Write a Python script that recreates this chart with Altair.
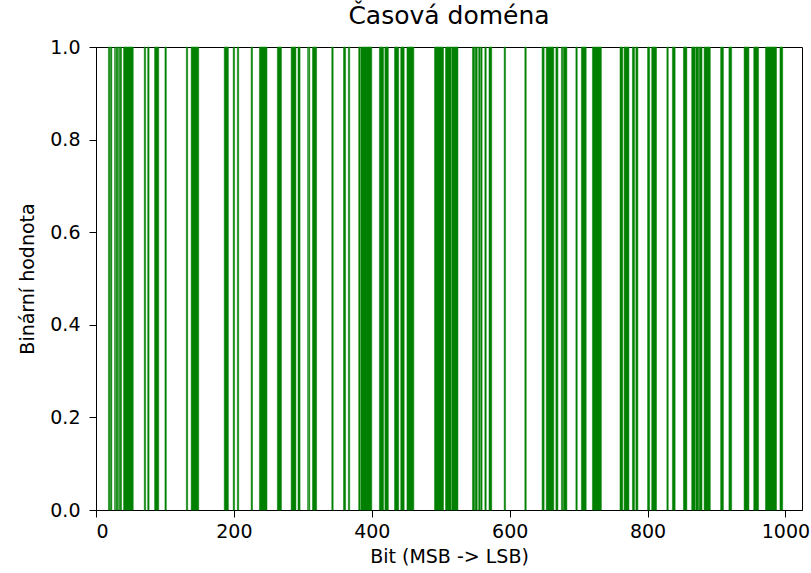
import altair as alt
import pandas as pd

# runs of bits equal to 1 (start index, end index inclusive)
run_start = [18, 21, 27, 29, 31, 33, 35, 40, 70, 75, 85, 100, 131, 138, 186, 199, 205, 225, 237,
             263, 283, 293, 307, 309, 314, 342, 359, 366, 381, 384, 411, 419, 433, 442, 451,
             491, 507, 516, 546, 550, 555, 558, 564, 570, 592, 622, 647, 653, 667, 675, 678,
             696, 704, 720, 760, 766, 778, 783, 800, 806, 828, 836, 852, 864, 870, 875, 882,
             906, 918, 940, 954, 971, 992]
run_end = [19, 22, 27, 29, 31, 33, 36, 53, 71, 76, 90, 101, 132, 148, 191, 200, 206, 226, 247,
           268, 289, 295, 307, 309, 319, 343, 361, 367, 382, 399, 416, 423, 438, 446, 460,
           503, 514, 524, 548, 552, 556, 559, 565, 573, 593, 623, 649, 663, 669, 676, 682,
           697, 710, 732, 763, 772, 780, 785, 802, 812, 829, 839, 856, 868, 873, 878, 890,
           909, 921, 946, 960, 986, 995]

df = pd.DataFrame({"start": run_start, "end": [e + 1 for e in run_end]})
df["lo"] = 0.0
df["hi"] = 1.0

x_ticks = [0, 200, 400, 600, 800, 1000]
y_ticks = [0.0, 0.2, 0.4, 0.6, 0.8, 1.0]

chart = alt.Chart(df).mark_rect(color="#008000", stroke="#008000", strokeWidth=0.5).encode(
    x=alt.X("start:Q", scale=alt.Scale(domain=[0, 1024], nice=False, zero=False),
            axis=alt.Axis(title="Bit (MSB -> LSB)", values=x_ticks, format="d", grid=False,
                          tickSize=7, labelPadding=5, titlePadding=6)),
    x2="end:Q",
    y=alt.Y("lo:Q", scale=alt.Scale(domain=[0, 1], nice=False),
            axis=alt.Axis(title="Binární hodnota", values=y_ticks, format=".1f", grid=False,
                          tickSize=7, labelPadding=9, titlePadding=12)),
    y2="hi:Q",
).properties(
    width=706, height=463,
    title=alt.TitleParams("Časová doména", fontSize=25, font="DejaVu Sans", fontWeight="normal",
                          color="black", offset=9),
    autosize=alt.AutoSizeParams(type="none"),
    padding={"left": 96, "top": 47, "right": 9, "bottom": 63},
).configure_axis(
    labelFont="DejaVu Sans", titleFont="DejaVu Sans", labelFontSize=19, titleFontSize=19,
    titleFontWeight="normal", labelColor="black", titleColor="black",
    domainColor="black", tickColor="black", domainWidth=1,
).configure_view(stroke="black", strokeWidth=1)

chart.save("out.html", embed_options={"renderer": "svg", "actions": False})
